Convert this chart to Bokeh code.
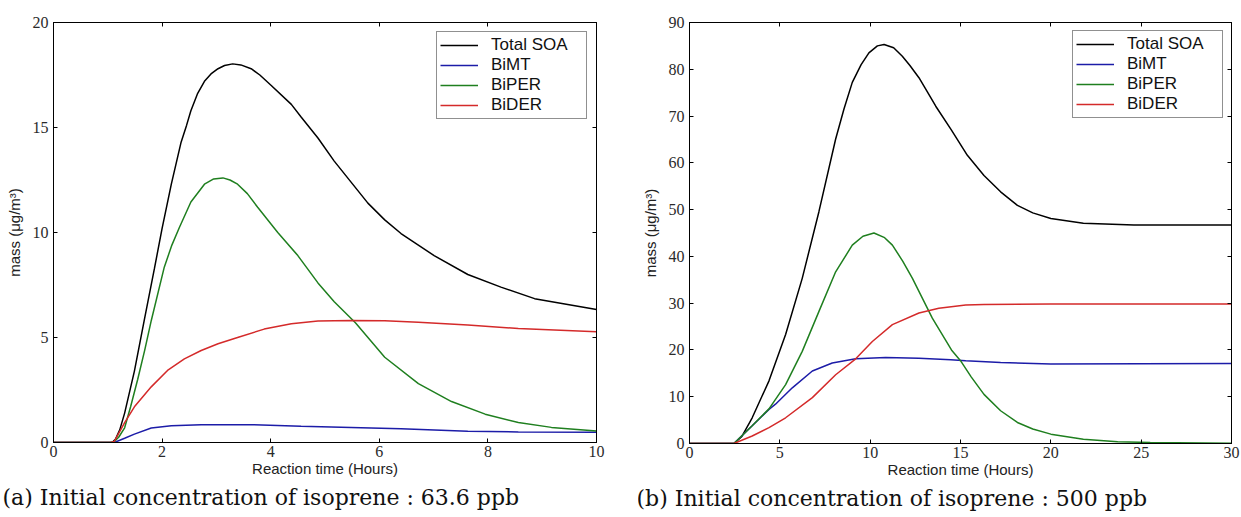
from bokeh.plotting import figure
from bokeh.models import LinearAxis, FixedTicker, Legend, LegendItem, Title, Range1d
from bokeh.layouts import row
from bokeh.embed import file_html
from bokeh.resources import INLINE

# ---------------- data: panel (a) 63.6 ppb ----------------
a_total_x = [0, 1.0, 1.08, 1.14, 1.22, 1.31, 1.49, 1.67, 1.86, 2.0, 2.17, 2.35, 2.45, 2.53, 2.65, 2.78, 2.90, 3.03, 3.15, 3.30, 3.45, 3.64, 3.80, 4.01, 4.38, 4.56, 4.87, 5.17, 5.48, 5.79, 6.10, 6.40, 7.01, 7.63, 8.24, 8.86, 10.0]
a_total_y = [0, 0, 0.0, 0.15, 0.6, 1.4, 3.4, 5.8, 8.3, 10.2, 12.3, 14.3, 15.1, 15.8, 16.6, 17.2, 17.55, 17.8, 17.95, 18.03, 17.98, 17.8, 17.5, 17.0, 16.1, 15.5, 14.5, 13.4, 12.4, 11.4, 10.6, 9.95, 8.9, 8.0, 7.4, 6.85, 6.33]

a_bimt_x = [0, 1.05, 1.12, 1.31, 1.49, 1.80, 2.17, 2.72, 3.64, 4.56, 5.48, 6.40, 7.63, 8.56, 10.0]
a_bimt_y = [0, 0, 0.0, 0.2, 0.4, 0.69, 0.8, 0.85, 0.85, 0.77, 0.72, 0.65, 0.54, 0.5, 0.49]

a_biper_x = [0, 1.05, 1.12, 1.20, 1.31, 1.42, 1.55, 1.68, 1.80, 2.04, 2.18, 2.32, 2.53, 2.78, 2.95, 3.12, 3.25, 3.39, 3.57, 3.76, 4.13, 4.50, 4.87, 5.17, 5.56, 6.10, 6.72, 7.33, 7.95, 8.56, 9.17, 10.0]
a_biper_y = [0, 0, 0.05, 0.25, 0.7, 1.7, 3.0, 4.4, 5.8, 8.35, 9.4, 10.25, 11.45, 12.3, 12.55, 12.6, 12.5, 12.3, 11.85, 11.2, 10.0, 8.9, 7.6, 6.7, 5.7, 4.06, 2.8, 1.95, 1.35, 0.95, 0.72, 0.55]

a_bider_x = [0, 1.05, 1.12, 1.31, 1.49, 1.80, 2.10, 2.41, 2.72, 3.03, 3.39, 3.88, 4.38, 4.87, 5.48, 6.10, 6.72, 7.63, 8.56, 10.0]
a_bider_y = [0, 0, 0.05, 0.95, 1.7, 2.65, 3.43, 3.98, 4.38, 4.7, 5.0, 5.4, 5.65, 5.78, 5.81, 5.8, 5.73, 5.6, 5.43, 5.27]

# ---------------- data: panel (b) 500 ppb ----------------
b_total_x = [0, 2.46, 2.9, 3.47, 4.4, 5.32, 6.24, 7.16, 8.09, 8.55, 9.01, 9.5, 9.93, 10.4, 10.77, 11.3, 11.78, 12.2, 12.7, 13.15, 13.63, 14.5, 15.38, 16.3, 17.22, 18.15, 19.0, 20.0, 21.8, 24.6, 30]
b_total_y = [0, 0, 1.5, 5.5, 13.4, 23.3, 35.3, 49.5, 65.1, 71.5, 77.2, 81.0, 83.5, 85.0, 85.3, 84.6, 82.8, 80.8, 78.2, 75.3, 72.1, 67.0, 61.6, 57.3, 53.8, 50.9, 49.3, 48.1, 47.1, 46.7, 46.7]

b_bimt_x = [0, 2.46, 3.47, 4.4, 4.76, 5.69, 6.8, 7.9, 9.2, 10.86, 12.7, 14.46, 15.29, 17.22, 20.0, 30]
b_bimt_y = [0, 0, 3.8, 7.3, 8.4, 11.9, 15.5, 17.2, 18.1, 18.4, 18.2, 17.9, 17.7, 17.3, 17.0, 17.1]

b_biper_x = [0, 2.46, 3.47, 4.4, 5.32, 6.24, 7.16, 8.09, 9.01, 9.6, 10.21, 10.8, 11.23, 11.8, 12.34, 13.44, 14.5, 15.0, 15.6, 16.3, 17.22, 18.15, 19.0, 20.0, 21.8, 23.7, 25.5, 30]
b_biper_y = [0, 0, 3.8, 7.4, 12.6, 19.7, 28.2, 36.7, 42.4, 44.3, 45.0, 44.0, 42.4, 39.0, 35.3, 26.8, 20.0, 17.7, 14.2, 10.5, 7.0, 4.5, 3.1, 2.0, 0.9, 0.4, 0.2, 0.05]

b_bider_x = [0, 2.46, 3.47, 4.4, 5.32, 6.8, 8.09, 9.2, 10.12, 11.23, 12.7, 13.8, 15.29, 16.3, 20.0, 30]
b_bider_y = [0, 0, 1.6, 3.4, 5.5, 9.8, 14.7, 18.1, 21.8, 25.4, 27.9, 28.9, 29.6, 29.7, 29.8, 29.8]

series_names = ["Total SOA", "BiMT", "BiPER", "BiDER"]
series_colors = ["#000000", "#1c1ca8", "#1f7f1f", "#d42a2a"]

a_xticks = [0, 2, 4, 6, 8, 10]
a_yticks = [0, 5, 10, 15, 20]
b_xticks = [0, 5, 10, 15, 20, 25, 30]
b_yticks = [0, 10, 20, 30, 40, 50, 60, 70, 80, 90]

caption_a = "(a) Initial concentration of isoprene : 63.6 ppb"
caption_b = "(b) Initial concentration of isoprene : 500 ppb"
x_label = "Reaction time (Hours)"
y_label = "mass (\u03bcg/m\u00b3)"

TICK_FONT = "Liberation Serif"
SANS = "Liberation Sans"


def style_axis(ax, ticks, show_labels=True):
    ax.ticker = FixedTicker(ticks=ticks)
    ax.major_tick_in = 4
    ax.major_tick_out = 0
    ax.minor_tick_line_color = None
    ax.axis_line_color = "black"
    ax.major_tick_line_color = "black"
    if show_labels:
        ax.major_label_text_font = TICK_FONT
        ax.major_label_text_font_size = "16px"
        ax.major_label_text_color = "#2a2a2a"
        ax.axis_label_text_font = SANS
        ax.axis_label_text_font_size = "15px"
        ax.axis_label_text_font_style = "normal"
        ax.axis_label_text_color = "#222222"
    else:
        ax.major_label_text_font_size = "1px"
        ax.major_label_text_color = None
        ax.major_label_standoff = 0


def make_panel(data, xmax, xticks, ymax, yticks, caption, bl, br, bt, fw, fh, cap_offset, leg_margin):
    p = figure(frame_width=fw, frame_height=fh,
               x_range=Range1d(0, xmax), y_range=Range1d(0, ymax),
               output_backend="svg", toolbar_location=None,
               min_border_left=bl, min_border_right=br, min_border_top=bt, min_border_bottom=70,
               x_axis_label=x_label, y_axis_label=y_label)
    p.grid.visible = False
    p.outline_line_color = "black"
    p.outline_line_width = 1
    p.background_fill_color = "white"
    p.border_fill_color = "white"

    style_axis(p.xaxis[0], xticks)
    style_axis(p.yaxis[0], yticks)
    p.xaxis[0].major_label_standoff = 3
    p.xaxis[0].axis_label_standoff = 0
    p.yaxis[0].major_label_standoff = 5
    p.yaxis[0].axis_label_standoff = 7

    top = LinearAxis()
    style_axis(top, xticks, show_labels=False)
    p.add_layout(top, "above")
    right = LinearAxis()
    style_axis(right, yticks, show_labels=False)
    p.add_layout(right, "right")

    items = []
    for (xs, ys), name, col in zip(data, series_names, series_colors):
        r = p.line(xs, ys, line_color=col, line_width=1.5)
        items.append(LegendItem(label=name, renderers=[r]))

    leg = Legend(items=items, location="top_right", margin=leg_margin,
                 padding=3, spacing=0, glyph_width=38, glyph_height=18,
                 label_height=18, label_standoff=13, label_width=92,
                 label_text_font=SANS, label_text_font_size="17px",
                 label_text_color="#111111",
                 border_line_color="#222222", border_line_width=1,
                 background_fill_alpha=1.0)
    p.add_layout(leg)

    p.add_layout(Title(text=caption, align="left", offset=cap_offset,
                       text_font="DejaVu Serif", text_font_size="22px",
                       text_font_style="normal", text_color="#111111",
                       standoff=7), "below")
    return p


pa = make_panel([(a_total_x, a_total_y), (a_bimt_x, a_bimt_y), (a_biper_x, a_biper_y), (a_bider_x, a_bider_y)],
                10, a_xticks, 20, a_yticks, caption_a,
                bl=53, br=42, bt=22, fw=543, fh=420, cap_offset=-51, leg_margin=9)
pb = make_panel([(b_total_x, b_total_y), (b_bimt_x, b_bimt_y), (b_biper_x, b_biper_y), (b_bider_x, b_bider_y)],
                30, b_xticks, 90, b_yticks, caption_b,
                bl=51, br=9, bt=20, fw=542, fh=421, cap_offset=-53, leg_margin=8)

layout = row(pa, pb)
open("out.html", "w").write(file_html(layout, INLINE))
